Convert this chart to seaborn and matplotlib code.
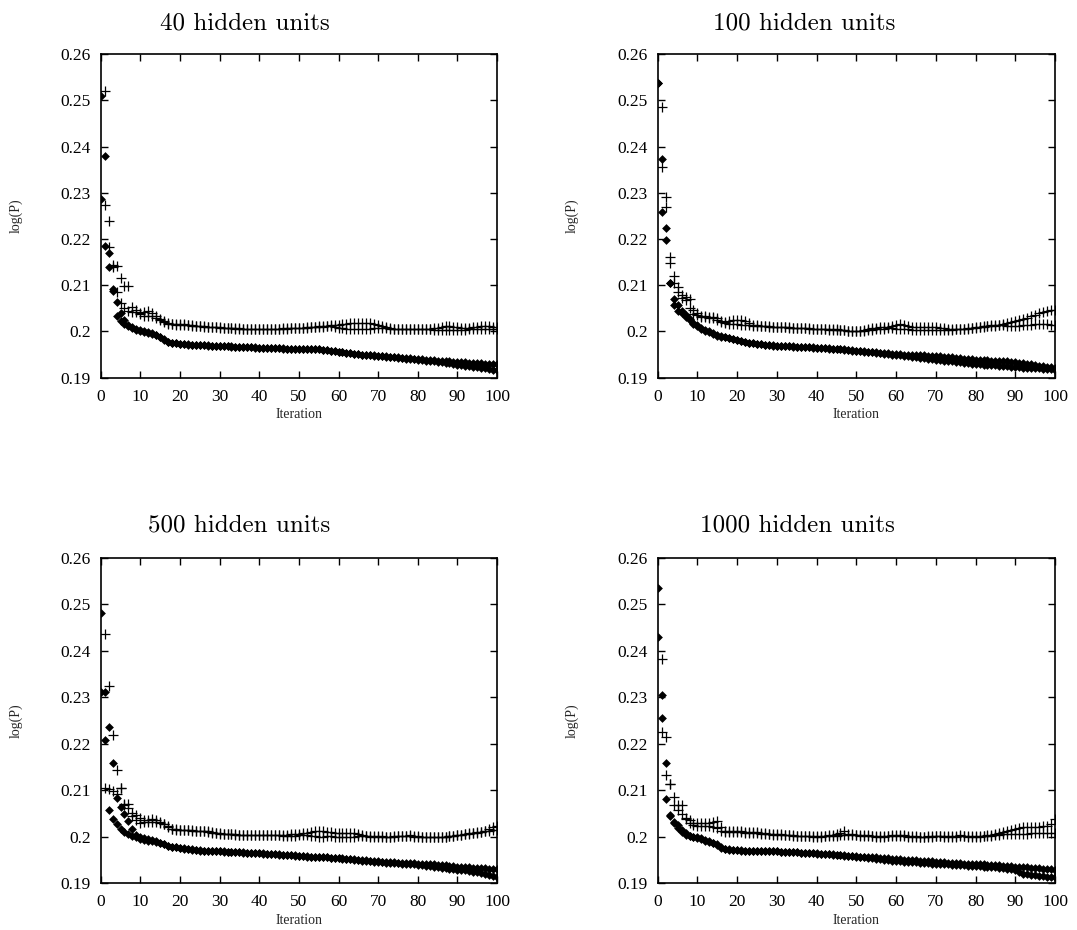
import numpy as np
import pandas as pd
import matplotlib
matplotlib.use("Agg")
import matplotlib.pyplot as plt
import seaborn as sns
from matplotlib.ticker import FuncFormatter

# ---------------- data ----------------
titles = ["40 hidden units", "100 hidden units", "500 hidden units", "1000 hidden units"]
x_ticks = [0, 10, 20, 30, 40, 50, 60, 70, 80, 90, 100]
y_ticks = [0.19, 0.20, 0.21, 0.22, 0.23, 0.24, 0.25, 0.26]
train_iters = list(range(0, 101))   # training runs recorded from iteration 0
val_iters = list(range(1, 101))     # validation runs recorded from iteration 1

# ---- 40 hidden units ----
h40_train_a = [
    0.2509, 0.2379, 0.2170, 0.2088, 0.2034, 0.2023, 0.2016, 0.2012, 0.2008, 0.2004,
    0.2001, 0.1999, 0.1997, 0.1995, 0.1992, 0.1988, 0.1981, 0.1977, 0.1975, 0.1974,
    0.1973, 0.1972, 0.1972, 0.1971, 0.1971, 0.1970, 0.1970, 0.1970, 0.1969, 0.1969,
    0.1969, 0.1968, 0.1968, 0.1968, 0.1967, 0.1967, 0.1967, 0.1966, 0.1966, 0.1966,
    0.1965, 0.1965, 0.1965, 0.1964, 0.1964, 0.1964, 0.1964, 0.1963, 0.1963, 0.1963,
    0.1963, 0.1962, 0.1962, 0.1962, 0.1962, 0.1961, 0.1960, 0.1959, 0.1958, 0.1957,
    0.1956, 0.1955, 0.1954, 0.1953, 0.1952, 0.1951, 0.1950, 0.1949, 0.1948, 0.1947,
    0.1946, 0.1946, 0.1945, 0.1944, 0.1944, 0.1943, 0.1942, 0.1941, 0.1941, 0.1940,
    0.1939, 0.1938, 0.1937, 0.1936, 0.1935, 0.1934, 0.1933, 0.1932, 0.1931, 0.1930,
    0.1928, 0.1927, 0.1926, 0.1925, 0.1924, 0.1923, 0.1921, 0.1920, 0.1918, 0.1917,
    0.1916]
h40_train_b = [
    0.2286, 0.2185, 0.2140, 0.2091, 0.2064, 0.2040, 0.2025, 0.2015, 0.2010, 0.2006,
    0.2003, 0.2000, 0.1998, 0.1996, 0.1993, 0.1989, 0.1984, 0.1978, 0.1975, 0.1974,
    0.1973, 0.1972, 0.1971, 0.1971, 0.1970, 0.1970, 0.1970, 0.1969, 0.1969, 0.1969,
    0.1968, 0.1968, 0.1968, 0.1967, 0.1967, 0.1967, 0.1966, 0.1966, 0.1966, 0.1965,
    0.1965, 0.1965, 0.1965, 0.1964, 0.1964, 0.1964, 0.1963, 0.1963, 0.1963, 0.1963,
    0.1962, 0.1962, 0.1962, 0.1962, 0.1961, 0.1961, 0.1960, 0.1959, 0.1958, 0.1957,
    0.1956, 0.1955, 0.1954, 0.1953, 0.1952, 0.1951, 0.1950, 0.1950, 0.1949, 0.1948,
    0.1947, 0.1946, 0.1946, 0.1945, 0.1944, 0.1944, 0.1943, 0.1942, 0.1942, 0.1941,
    0.1940, 0.1940, 0.1939, 0.1938, 0.1938, 0.1937, 0.1936, 0.1936, 0.1935, 0.1934,
    0.1934, 0.1933, 0.1933, 0.1932, 0.1932, 0.1931, 0.1931, 0.1930, 0.1930, 0.1929,
    0.1929]
h40_val_a = [
    0.2521, 0.2239, 0.2143, 0.2141, 0.2115, 0.2098, 0.2098, 0.2052, 0.2046, 0.2040,
    0.2043, 0.2044, 0.2040, 0.2033, 0.2027, 0.2022, 0.2018, 0.2016, 0.2016, 0.2017,
    0.2016, 0.2015, 0.2013, 0.2012, 0.2011, 0.2011, 0.2010, 0.2010, 0.2009, 0.2009,
    0.2008, 0.2008, 0.2007, 0.2007, 0.2007, 0.2006, 0.2006, 0.2006, 0.2005, 0.2006,
    0.2005, 0.2006, 0.2006, 0.2006, 0.2006, 0.2007, 0.2007, 0.2007, 0.2008, 0.2008,
    0.2008, 0.2009, 0.2009, 0.2010, 0.2011, 0.2011, 0.2012, 0.2013, 0.2013, 0.2014,
    0.2016, 0.2017, 0.2018, 0.2018, 0.2019, 0.2019, 0.2019, 0.2018, 0.2017, 0.2015,
    0.2012, 0.2009, 0.2007, 0.2006, 0.2006, 0.2006, 0.2006, 0.2006, 0.2006, 0.2006,
    0.2006, 0.2006, 0.2006, 0.2007, 0.2008, 0.2010, 0.2011, 0.2011, 0.2010, 0.2009,
    0.2008, 0.2007, 0.2008, 0.2009, 0.2010, 0.2011, 0.2011, 0.2011, 0.2010, 0.2010]
h40_val_b = [
    0.2273, 0.2183, 0.2140, 0.2085, 0.2062, 0.2050, 0.2045, 0.2043, 0.2041, 0.2037,
    0.2034, 0.2033, 0.2033, 0.2030, 0.2025, 0.2020, 0.2017, 0.2016, 0.2015, 0.2015,
    0.2014, 0.2013, 0.2012, 0.2011, 0.2011, 0.2010, 0.2010, 0.2009, 0.2009, 0.2008,
    0.2008, 0.2007, 0.2007, 0.2006, 0.2006, 0.2006, 0.2005, 0.2005, 0.2005, 0.2005,
    0.2005, 0.2005, 0.2005, 0.2006, 0.2006, 0.2006, 0.2006, 0.2007, 0.2007, 0.2007,
    0.2008, 0.2008, 0.2009, 0.2009, 0.2010, 0.2010, 0.2011, 0.2011, 0.2010, 0.2008,
    0.2007, 0.2006, 0.2005, 0.2005, 0.2005, 0.2005, 0.2006, 0.2006, 0.2007, 0.2008,
    0.2008, 0.2007, 0.2006, 0.2006, 0.2005, 0.2005, 0.2005, 0.2005, 0.2005, 0.2005,
    0.2005, 0.2005, 0.2005, 0.2004, 0.2004, 0.2003, 0.2003, 0.2003, 0.2004, 0.2004,
    0.2004, 0.2004, 0.2005, 0.2005, 0.2005, 0.2005, 0.2006, 0.2006, 0.2005, 0.2005]

# ---- 100 hidden units ----
h100_train_a = [
    0.2537, 0.2374, 0.2223, 0.2104, 0.2071, 0.2057, 0.2045, 0.2036, 0.2027, 0.2019,
    0.2013, 0.2008, 0.2004, 0.2000, 0.1996, 0.1992, 0.1990, 0.1988, 0.1986, 0.1984,
    0.1982, 0.1980, 0.1978, 0.1976, 0.1975, 0.1973, 0.1972, 0.1971, 0.1970, 0.1970,
    0.1969, 0.1969, 0.1968, 0.1968, 0.1968, 0.1967, 0.1967, 0.1967, 0.1966, 0.1966,
    0.1965, 0.1965, 0.1964, 0.1964, 0.1963, 0.1962, 0.1962, 0.1961, 0.1960, 0.1959,
    0.1958, 0.1957, 0.1957, 0.1956, 0.1955, 0.1955, 0.1954, 0.1953, 0.1953, 0.1952,
    0.1951, 0.1951, 0.1950, 0.1950, 0.1949, 0.1949, 0.1948, 0.1948, 0.1947, 0.1947,
    0.1946, 0.1946, 0.1945, 0.1945, 0.1944, 0.1943, 0.1942, 0.1941, 0.1940, 0.1940,
    0.1939, 0.1939, 0.1938, 0.1938, 0.1937, 0.1937, 0.1936, 0.1935, 0.1935, 0.1934,
    0.1933, 0.1932, 0.1931, 0.1930, 0.1929, 0.1928, 0.1926, 0.1925, 0.1924, 0.1923,
    0.1922]
h100_train_b = [
    0.2537, 0.2258, 0.2198, 0.2104, 0.2057, 0.2044, 0.2040, 0.2032, 0.2024, 0.2016,
    0.2011, 0.2006, 0.2002, 0.1999, 0.1995, 0.1991, 0.1989, 0.1987, 0.1985, 0.1983,
    0.1981, 0.1979, 0.1977, 0.1976, 0.1974, 0.1973, 0.1972, 0.1971, 0.1970, 0.1969,
    0.1969, 0.1968, 0.1968, 0.1968, 0.1967, 0.1967, 0.1967, 0.1966, 0.1966, 0.1965,
    0.1965, 0.1964, 0.1964, 0.1963, 0.1963, 0.1962, 0.1961, 0.1960, 0.1959, 0.1958,
    0.1957, 0.1957, 0.1956, 0.1955, 0.1955, 0.1954, 0.1953, 0.1952, 0.1951, 0.1950,
    0.1949, 0.1948, 0.1947, 0.1946, 0.1945, 0.1944, 0.1943, 0.1942, 0.1941, 0.1940,
    0.1939, 0.1938, 0.1937, 0.1936, 0.1935, 0.1934, 0.1933, 0.1932, 0.1931, 0.1930,
    0.1929, 0.1929, 0.1928, 0.1928, 0.1927, 0.1927, 0.1926, 0.1926, 0.1925, 0.1924,
    0.1923, 0.1923, 0.1922, 0.1922, 0.1921, 0.1920, 0.1920, 0.1919, 0.1918, 0.1918,
    0.1917]
h100_val_a = [
    0.2486, 0.2291, 0.2162, 0.2120, 0.2097, 0.2079, 0.2075, 0.2070, 0.2046, 0.2040,
    0.2034, 0.2033, 0.2032, 0.2032, 0.2028, 0.2022, 0.2020, 0.2022, 0.2024, 0.2025,
    0.2025, 0.2022, 0.2018, 0.2015, 0.2013, 0.2012, 0.2011, 0.2011, 0.2010, 0.2010,
    0.2010, 0.2009, 0.2009, 0.2008, 0.2008, 0.2008, 0.2007, 0.2007, 0.2006, 0.2006,
    0.2006, 0.2005, 0.2005, 0.2005, 0.2005, 0.2004, 0.2003, 0.2002, 0.2002, 0.2001,
    0.2002, 0.2004, 0.2006, 0.2007, 0.2008, 0.2009, 0.2009, 0.2010, 0.2012, 0.2015,
    0.2016, 0.2015, 0.2012, 0.2010, 0.2009, 0.2009, 0.2009, 0.2009, 0.2009, 0.2009,
    0.2008, 0.2007, 0.2006, 0.2005, 0.2005, 0.2006, 0.2006, 0.2007, 0.2008, 0.2009,
    0.2010, 0.2011, 0.2012, 0.2013, 0.2014, 0.2015, 0.2016, 0.2018, 0.2020, 0.2022,
    0.2025, 0.2027, 0.2030, 0.2033, 0.2036, 0.2039, 0.2042, 0.2045, 0.2046, 0.2047]
h100_val_b = [
    0.2355, 0.2270, 0.2147, 0.2105, 0.2085, 0.2072, 0.2068, 0.2050, 0.2038, 0.2035,
    0.2032, 0.2031, 0.2030, 0.2029, 0.2025, 0.2021, 0.2018, 0.2017, 0.2016, 0.2016,
    0.2015, 0.2014, 0.2013, 0.2012, 0.2012, 0.2011, 0.2011, 0.2010, 0.2010, 0.2009,
    0.2009, 0.2009, 0.2008, 0.2008, 0.2007, 0.2007, 0.2007, 0.2006, 0.2006, 0.2006,
    0.2005, 0.2005, 0.2004, 0.2004, 0.2004, 0.2003, 0.2003, 0.2002, 0.2001, 0.2001,
    0.2001, 0.2002, 0.2003, 0.2004, 0.2005, 0.2006, 0.2006, 0.2007, 0.2007, 0.2006,
    0.2006, 0.2005, 0.2005, 0.2004, 0.2004, 0.2004, 0.2004, 0.2004, 0.2004, 0.2004,
    0.2004, 0.2004, 0.2004, 0.2004, 0.2005, 0.2005, 0.2006, 0.2006, 0.2007, 0.2008,
    0.2009, 0.2010, 0.2011, 0.2012, 0.2012, 0.2013, 0.2013, 0.2012, 0.2011, 0.2011,
    0.2012, 0.2013, 0.2014, 0.2015, 0.2016, 0.2016, 0.2016, 0.2016, 0.2015, 0.2015]

# ---- 500 hidden units ----
h500_train_a = [
    0.2480, 0.2312, 0.2236, 0.2158, 0.2082, 0.2063, 0.2048, 0.2033, 0.2017, 0.2004,
    0.1998, 0.1996, 0.1994, 0.1992, 0.1990, 0.1987, 0.1983, 0.1980, 0.1978, 0.1977,
    0.1975, 0.1974, 0.1973, 0.1972, 0.1971, 0.1970, 0.1969, 0.1969, 0.1968, 0.1968,
    0.1968, 0.1967, 0.1967, 0.1967, 0.1966, 0.1966, 0.1965, 0.1965, 0.1965, 0.1964,
    0.1964, 0.1963, 0.1963, 0.1962, 0.1962, 0.1961, 0.1961, 0.1960, 0.1960, 0.1959,
    0.1958, 0.1958, 0.1957, 0.1957, 0.1956, 0.1956, 0.1955, 0.1955, 0.1954, 0.1953,
    0.1953, 0.1952, 0.1951, 0.1951, 0.1950, 0.1949, 0.1948, 0.1948, 0.1947, 0.1946,
    0.1946, 0.1945, 0.1944, 0.1944, 0.1943, 0.1943, 0.1942, 0.1941, 0.1941, 0.1940,
    0.1939, 0.1938, 0.1937, 0.1936, 0.1935, 0.1934, 0.1933, 0.1932, 0.1931, 0.1930,
    0.1929, 0.1928, 0.1927, 0.1926, 0.1924, 0.1923, 0.1921, 0.1919, 0.1917, 0.1915,
    0.1914]
h500_train_b = [
    0.2310, 0.2208, 0.2057, 0.2037, 0.2027, 0.2016, 0.2010, 0.2005, 0.2001, 0.1998,
    0.1994, 0.1992, 0.1991, 0.1990, 0.1988, 0.1986, 0.1983, 0.1980, 0.1978, 0.1977,
    0.1976, 0.1975, 0.1974, 0.1973, 0.1972, 0.1971, 0.1970, 0.1970, 0.1969, 0.1969,
    0.1968, 0.1968, 0.1967, 0.1967, 0.1967, 0.1966, 0.1966, 0.1965, 0.1965, 0.1965,
    0.1964, 0.1964, 0.1963, 0.1963, 0.1962, 0.1962, 0.1961, 0.1961, 0.1960, 0.1960,
    0.1959, 0.1958, 0.1958, 0.1957, 0.1957, 0.1956, 0.1956, 0.1955, 0.1954, 0.1954,
    0.1953, 0.1953, 0.1952, 0.1951, 0.1951, 0.1950, 0.1949, 0.1949, 0.1948, 0.1947,
    0.1947, 0.1946, 0.1946, 0.1945, 0.1945, 0.1944, 0.1944, 0.1943, 0.1943, 0.1943,
    0.1942, 0.1942, 0.1941, 0.1941, 0.1940, 0.1939, 0.1938, 0.1938, 0.1937, 0.1936,
    0.1935, 0.1935, 0.1934, 0.1934, 0.1933, 0.1933, 0.1932, 0.1932, 0.1931, 0.1931,
    0.1930]
h500_val_a = [
    0.2436, 0.2325, 0.2218, 0.2143, 0.2104, 0.2071, 0.2070, 0.2050, 0.2047, 0.2039,
    0.2035, 0.2036, 0.2038, 0.2035, 0.2032, 0.2028, 0.2022, 0.2017, 0.2016, 0.2015,
    0.2015, 0.2014, 0.2014, 0.2013, 0.2013, 0.2012, 0.2012, 0.2010, 0.2008, 0.2007,
    0.2006, 0.2005, 0.2005, 0.2005, 0.2004, 0.2004, 0.2004, 0.2004, 0.2004, 0.2004,
    0.2004, 0.2004, 0.2004, 0.2004, 0.2004, 0.2004, 0.2004, 0.2005, 0.2005, 0.2006,
    0.2007, 0.2008, 0.2010, 0.2012, 0.2012, 0.2011, 0.2010, 0.2009, 0.2008, 0.2008,
    0.2008, 0.2008, 0.2008, 0.2007, 0.2005, 0.2003, 0.2002, 0.2001, 0.2001, 0.2001,
    0.2001, 0.2000, 0.2000, 0.2000, 0.2001, 0.2001, 0.2002, 0.2003, 0.2002, 0.2001,
    0.2000, 0.2000, 0.2000, 0.2000, 0.2000, 0.2000, 0.2000, 0.2001, 0.2002, 0.2003,
    0.2004, 0.2006, 0.2007, 0.2008, 0.2009, 0.2010, 0.2012, 0.2016, 0.2020, 0.2023]
h500_val_b = [
    0.2104, 0.2103, 0.2099, 0.2092, 0.2104, 0.2068, 0.2062, 0.2045, 0.2035, 0.2030,
    0.2031, 0.2032, 0.2032, 0.2031, 0.2030, 0.2027, 0.2020, 0.2016, 0.2015, 0.2014,
    0.2014, 0.2014, 0.2013, 0.2013, 0.2012, 0.2011, 0.2010, 0.2008, 0.2007, 0.2006,
    0.2006, 0.2005, 0.2005, 0.2004, 0.2004, 0.2004, 0.2004, 0.2004, 0.2003, 0.2003,
    0.2003, 0.2003, 0.2003, 0.2003, 0.2003, 0.2002, 0.2002, 0.2002, 0.2002, 0.2003,
    0.2003, 0.2003, 0.2002, 0.2001, 0.2000, 0.2000, 0.2001, 0.2001, 0.2000, 0.2000,
    0.2000, 0.1999, 0.1999, 0.2000, 0.2001, 0.2001, 0.2001, 0.2000, 0.2000, 0.2000,
    0.2000, 0.2000, 0.2000, 0.2001, 0.2001, 0.2001, 0.2001, 0.2001, 0.2000, 0.2000,
    0.1999, 0.1999, 0.1999, 0.1999, 0.2000, 0.2000, 0.2000, 0.2001, 0.2002, 0.2003,
    0.2004, 0.2005, 0.2006, 0.2007, 0.2008, 0.2010, 0.2012, 0.2013, 0.2014, 0.2014]

# ---- 1000 hidden units ----
h1000_train_a = [
    0.2534, 0.2304, 0.2158, 0.2047, 0.2032, 0.2024, 0.2014, 0.2007, 0.2002, 0.1999,
    0.1997, 0.1995, 0.1991, 0.1989, 0.1986, 0.1982, 0.1976, 0.1973, 0.1972, 0.1971,
    0.1971, 0.1970, 0.1970, 0.1969, 0.1969, 0.1969, 0.1968, 0.1968, 0.1968, 0.1968,
    0.1968, 0.1967, 0.1967, 0.1967, 0.1966, 0.1966, 0.1965, 0.1965, 0.1964, 0.1964,
    0.1963, 0.1963, 0.1962, 0.1962, 0.1961, 0.1961, 0.1960, 0.1959, 0.1958, 0.1958,
    0.1957, 0.1956, 0.1955, 0.1954, 0.1953, 0.1952, 0.1951, 0.1950, 0.1949, 0.1948,
    0.1947, 0.1947, 0.1946, 0.1946, 0.1945, 0.1945, 0.1944, 0.1944, 0.1943, 0.1942,
    0.1941, 0.1941, 0.1940, 0.1940, 0.1939, 0.1939, 0.1938, 0.1938, 0.1937, 0.1937,
    0.1936, 0.1936, 0.1935, 0.1935, 0.1934, 0.1934, 0.1933, 0.1932, 0.1931, 0.1930,
    0.1928, 0.1924, 0.1920, 0.1919, 0.1918, 0.1917, 0.1916, 0.1915, 0.1914, 0.1914,
    0.1913]
h1000_train_b = [
    0.2430, 0.2256, 0.2080, 0.2045, 0.2029, 0.2018, 0.2010, 0.2004, 0.2001, 0.1999,
    0.1998, 0.1996, 0.1992, 0.1990, 0.1987, 0.1983, 0.1977, 0.1974, 0.1973, 0.1972,
    0.1971, 0.1971, 0.1970, 0.1970, 0.1969, 0.1969, 0.1969, 0.1968, 0.1968, 0.1968,
    0.1968, 0.1967, 0.1967, 0.1966, 0.1966, 0.1966, 0.1965, 0.1965, 0.1964, 0.1964,
    0.1964, 0.1963, 0.1963, 0.1962, 0.1962, 0.1961, 0.1961, 0.1960, 0.1959, 0.1959,
    0.1958, 0.1957, 0.1957, 0.1956, 0.1955, 0.1955, 0.1954, 0.1953, 0.1953, 0.1952,
    0.1951, 0.1951, 0.1950, 0.1950, 0.1949, 0.1949, 0.1948, 0.1948, 0.1947, 0.1947,
    0.1946, 0.1945, 0.1945, 0.1944, 0.1944, 0.1943, 0.1943, 0.1942, 0.1942, 0.1941,
    0.1941, 0.1940, 0.1940, 0.1939, 0.1939, 0.1938, 0.1938, 0.1937, 0.1937, 0.1936,
    0.1935, 0.1935, 0.1934, 0.1934, 0.1933, 0.1932, 0.1932, 0.1931, 0.1930, 0.1930,
    0.1929]
h1000_val_a = [
    0.2383, 0.2215, 0.2113, 0.2086, 0.2068, 0.2068, 0.2040, 0.2036, 0.2030, 0.2029,
    0.2029, 0.2029, 0.2030, 0.2031, 0.2033, 0.2020, 0.2012, 0.2011, 0.2011, 0.2011,
    0.2011, 0.2010, 0.2010, 0.2010, 0.2009, 0.2008, 0.2007, 0.2006, 0.2005, 0.2005,
    0.2005, 0.2004, 0.2003, 0.2003, 0.2002, 0.2002, 0.2001, 0.2001, 0.2001, 0.2001,
    0.2001, 0.2002, 0.2003, 0.2004, 0.2005, 0.2007, 0.2012, 0.2006, 0.2005, 0.2004,
    0.2004, 0.2003, 0.2003, 0.2002, 0.2002, 0.2001, 0.2001, 0.2002, 0.2003, 0.2004,
    0.2004, 0.2003, 0.2002, 0.2002, 0.2001, 0.2000, 0.2000, 0.2001, 0.2002, 0.2002,
    0.2002, 0.2001, 0.2001, 0.2001, 0.2002, 0.2003, 0.2002, 0.2001, 0.2001, 0.2001,
    0.2001, 0.2002, 0.2003, 0.2004, 0.2006, 0.2008, 0.2010, 0.2012, 0.2014, 0.2016,
    0.2018, 0.2020, 0.2020, 0.2021, 0.2021, 0.2021, 0.2022, 0.2022, 0.2027, 0.2037]
h1000_val_b = [
    0.2225, 0.2133, 0.2113, 0.2068, 0.2057, 0.2048, 0.2038, 0.2030, 0.2025, 0.2022,
    0.2022, 0.2022, 0.2022, 0.2021, 0.2018, 0.2012, 0.2010, 0.2010, 0.2009, 0.2009,
    0.2009, 0.2008, 0.2008, 0.2008, 0.2007, 0.2006, 0.2006, 0.2005, 0.2004, 0.2004,
    0.2004, 0.2003, 0.2003, 0.2002, 0.2002, 0.2001, 0.2001, 0.2001, 0.2000, 0.2000,
    0.2000, 0.2001, 0.2001, 0.2002, 0.2002, 0.2003, 0.2003, 0.2003, 0.2003, 0.2003,
    0.2002, 0.2002, 0.2001, 0.2001, 0.2000, 0.2000, 0.2000, 0.2001, 0.2001, 0.2002,
    0.2002, 0.2001, 0.2000, 0.2000, 0.2000, 0.2000, 0.1999, 0.2000, 0.2000, 0.2001,
    0.2001, 0.2000, 0.2000, 0.2000, 0.2000, 0.2001, 0.2001, 0.2000, 0.2000, 0.2000,
    0.2000, 0.2001, 0.2001, 0.2002, 0.2003, 0.2004, 0.2005, 0.2005, 0.2005, 0.2006,
    0.2006, 0.2006, 0.2006, 0.2007, 0.2007, 0.2007, 0.2007, 0.2007, 0.2007, 0.2007]

panels = [
    (h40_train_a, h40_train_b, h40_val_a, h40_val_b),
    (h100_train_a, h100_train_b, h100_val_a, h100_val_b),
    (h500_train_a, h500_train_b, h500_val_a, h500_val_b),
    (h1000_train_a, h1000_train_b, h1000_val_a, h1000_val_b),
]

# ---------------- style ----------------
sns.set_style("ticks")
plt.rcParams["font.family"] = ["Liberation Serif", "DejaVu Serif"]
plt.rcParams["axes.linewidth"] = 1.2

fig = plt.figure(figsize=(10.77, 9.30), dpi=100)

# axes rectangles [left, bottom, width, height] in figure fractions
rects = [
    [0.0935, 0.5939, 0.3680, 0.3480],
    [0.6107, 0.5939, 0.3689, 0.3480],
    [0.0935, 0.0505, 0.3680, 0.3498],
    [0.6107, 0.0505, 0.3689, 0.3498],
]
title_pos = [(0.3064, 0.9688), (0.8310, 0.9688), (0.3064, 0.4280), (0.8310, 0.4280)]

fmt = FuncFormatter(lambda v, p: f"{v:g}")

for k in range(4):
    ax = fig.add_axes(rects[k])
    tr_a, tr_b, va_a, va_b = panels[k]
    df_tr = pd.DataFrame({"Iteration": train_iters + train_iters,
                          "logP": tr_a + tr_b,
                          "run": ["a"] * len(tr_a) + ["b"] * len(tr_b)})
    df_va = pd.DataFrame({"Iteration": val_iters + val_iters,
                          "logP": va_a + va_b,
                          "run": ["a"] * len(va_a) + ["b"] * len(va_b)})
    sns.scatterplot(data=df_tr, x="Iteration", y="logP", marker="D", s=20,
                    color="black", linewidth=0, ax=ax, legend=False)
    sns.scatterplot(data=df_va, x="Iteration", y="logP", marker="+", s=42,
                    color="black", linewidth=0.9, ax=ax, legend=False)

    ax.set_xlim(0, 100)
    ax.set_ylim(0.19, 0.26)
    ax.set_xticks(x_ticks)
    ax.set_yticks(y_ticks)
    ax.yaxis.set_major_formatter(fmt)
    ax.tick_params(direction="in", length=5, width=1.0, top=True, right=True,
                   labelsize=12.5, colors="black")
    ax.tick_params(axis="x", pad=8)
    ax.tick_params(axis="y", pad=7)
    for sp in ax.spines.values():
        sp.set_visible(True)
        sp.set_color("black")
        sp.set_linewidth(1.2)
    ax.set_xlabel("Iteration", fontsize=10)
    ax.set_ylabel("log(P)", fontsize=10)
    ax.xaxis.set_label_coords(0.5, -0.095)
    ax.yaxis.set_label_coords(-0.198, 0.5)

    tx, ty = title_pos[k]
    fig.text(tx, ty, titles[k], ha="right", va="baseline",
             fontsize=18, family="cmr10", color="black")

fig.savefig("out.png", dpi=100)
